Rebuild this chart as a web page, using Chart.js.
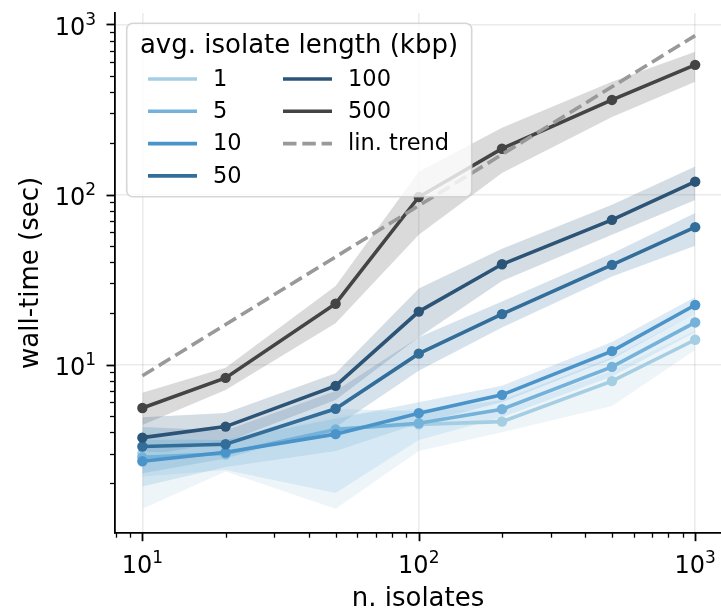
<!DOCTYPE html>
<html>
<head>
<meta charset="utf-8">
<script src="https://cdn.jsdelivr.net/npm/chart.js@4"></script>
<style>
body { margin: 0; background: #fff; overflow: hidden; }
canvas { display: block; }
</style>
</head>
<body>
<canvas id="timingChart" width="721" height="615"></canvas>
<script>
// n. isolates on the x axis
const isolates = [10, 20, 50, 100, 200, 500, 1000];
const lengthLabels = ["1", "5", "10", "50", "100", "500"];
const lineColors = ["rgb(166,206,227)", "rgb(117,178,218)", "rgb(74,148,201)",
                    "rgb(50,110,153)", "rgb(44,84,118)", "rgb(68,68,68)"];
const bandColors = ["rgba(166,206,227,0.2)", "rgba(117,178,218,0.2)", "rgba(74,148,201,0.2)",
                    "rgba(50,110,153,0.2)", "rgba(44,84,118,0.2)", "rgba(68,68,68,0.2)"];

// wall-time (sec), mean and band edges per avg. isolate length
const mean1 = [3.0, 2.95, 4.2, 4.45, 4.62, 8.0, 14.0];
const low1 = [1.42, 2.35, 1.42, 3.1, 4.0, 5.7, 12.2];
const high1 = [4.3, 3.5, 5.0, 5.5, 5.3, 9.2, 15.8];

const mean5 = [2.85, 3.0, 4.15, 4.52, 5.47, 9.7, 17.7];
const low5 = [2.2, 2.4, 1.76, 3.6, 4.9, 8.5, 15.5];
const high5 = [3.7, 3.6, 5.5, 5.3, 6.2, 11.0, 20.0];

const mean10 = [2.7, 3.05, 3.9, 5.18, 6.64, 12.0, 22.4];
const low10 = [1.92, 2.5, 3.1, 4.5, 6.0, 10.8, 20.0];
const high10 = [3.6, 3.6, 4.8, 6.0, 7.5, 13.6, 25.0];

const mean50 = [3.3, 3.4, 5.5, 11.6, 19.8, 38.6, 64.3];
const low50 = [2.3, 2.8, 4.3, 9.2, 16.5, 33, 50];
const high50 = [4.3, 4.1, 7.0, 14.5, 23.5, 45, 78];

const mean100 = [3.72, 4.32, 7.5, 20.5, 38.9, 71, 119];
const low100 = [2.9, 3.5, 6.2, 14.5, 31, 58, 93];
const high100 = [4.9, 5.2, 8.9, 28, 48, 87, 146];

const mean500 = [5.56, 8.35, 22.8, 96.7, 186, 360, 579];
const low500 = [4.42, 7.1, 17.5, 58, 134, 286, 460];
const high500 = [6.84, 9.57, 29, 136, 247, 460, 692];

const linTrend = [8.6, 17.2, 43, 86, 172, 430, 860];

// decade ticks, drawn as 10 with a raised exponent
const tickValues = [10, 100, 1000];
const tickExponents = ["1", "2", "3"];

const means = [mean1, mean5, mean10, mean50, mean100, mean500];
const lows = [low1, low5, low10, low50, low100, low500];
const highs = [high1, high5, high10, high50, high100, high500];

function pts(vals) {
    return isolates.map((x, i) => ({ x: x, y: vals[i] }));
}

let datasets = [];
lengthLabels.forEach((lab, i) => {
    datasets.push({
        label: "", data: pts(lows[i]), borderWidth: 0, pointRadius: 0,
        fill: false, order: 20 + i
    });
    datasets.push({
        label: "", data: pts(highs[i]), borderWidth: 0, pointRadius: 0,
        fill: "-1", backgroundColor: bandColors[i], order: 20 + i
    });
});
lengthLabels.forEach((lab, i) => {
    datasets.push({
        label: lab, data: pts(means[i]), borderColor: lineColors[i],
        backgroundColor: lineColors[i], borderWidth: 3.6, pointRadius: 5.2,
        pointBorderWidth: 0, fill: false, order: 6 - i
    });
});
datasets.push({
    label: "lin. trend", data: pts(linTrend), borderColor: "#999999",
    borderWidth: 3.6, borderDash: [13.5, 5.8], pointRadius: 0, fill: false, order: 0
});

const font = "DejaVu Sans";

// short and long tick marks on both axes, plus the 10^n labels
const tickMarks = {
    id: "tickMarks",
    afterDraw(chart) {
        const { ctx, chartArea } = chart;
        const sx = chart.scales.x, sy = chart.scales.y;
        ctx.save();
        ctx.strokeStyle = "#000";
        for (let e = 0; e <= 3; e++) {
            for (let m = 1; m <= 9; m++) {
                const v = m * Math.pow(10, e);
                const major = m === 1;
                ctx.lineWidth = major ? 1.8 : 1.3;
                const len = major ? 8.5 : 5;
                if (v >= sx.min && v <= sx.max) {
                    const px = Math.round(sx.getPixelForValue(v)) + 0.5;
                    ctx.beginPath();
                    ctx.moveTo(px, chartArea.bottom);
                    ctx.lineTo(px, chartArea.bottom + len);
                    ctx.stroke();
                }
                if (v >= sy.min && v <= sy.max) {
                    const py = Math.round(sy.getPixelForValue(v)) + 0.5;
                    ctx.beginPath();
                    ctx.moveTo(chartArea.left, py);
                    ctx.lineTo(chartArea.left - len, py);
                    ctx.stroke();
                }
            }
        }

        ctx.fillStyle = "#000";
        ctx.textAlign = "left";
        ctx.textBaseline = "alphabetic";
        tickValues.forEach((v, i) => {
            ctx.font = "24px '" + font + "'";
            const wb = ctx.measureText("10").width;
            ctx.font = "17px '" + font + "'";
            const we = ctx.measureText(tickExponents[i]).width;

            const px = sx.getPixelForValue(v);
            const lx = px - (wb + we) / 2;
            const bx = chartArea.bottom + 40;
            ctx.font = "24px '" + font + "'";
            ctx.fillText("10", lx, bx);
            ctx.font = "17px '" + font + "'";
            ctx.fillText(tickExponents[i], lx + wb, bx - 10);

            const py = sy.getPixelForValue(v);
            const ly = chartArea.left - 19 - (wb + we);
            const by = py + 10.5;
            ctx.font = "24px '" + font + "'";
            ctx.fillText("10", ly, by);
            ctx.font = "17px '" + font + "'";
            ctx.fillText(tickExponents[i], ly + wb, by - 10);
        });
        ctx.restore();
    }
};

// legend box in the upper left of the plot, two columns
const boxLegend = {
    id: "boxLegend",
    afterDraw(chart) {
        const ctx = chart.ctx;
        const items = chart.data.datasets.filter(d => d.label);
        ctx.save();
        ctx.beginPath();
        ctx.roundRect(126.7, 23.3, 345, 173.4, 6);
        ctx.fillStyle = "rgba(255,255,255,0.8)";
        ctx.fill();
        ctx.strokeStyle = "rgba(204,204,204,0.8)";
        ctx.lineWidth = 1.6;
        ctx.stroke();

        ctx.fillStyle = "#000";
        ctx.font = "26px '" + font + "'";
        ctx.textAlign = "center";
        ctx.textBaseline = "middle";
        ctx.fillText("avg. isolate length (kbp)", 299, 46);

        ctx.font = "22.5px '" + font + "'";
        ctx.textAlign = "left";
        items.forEach((d, i) => {
            const col = Math.floor(i / 4), row = i % 4;
            const y = 79 + row * 32.3;
            const x0 = col === 0 ? 148 : 283;
            ctx.beginPath();
            ctx.setLineDash(d.borderDash || []);
            ctx.strokeStyle = d.borderColor;
            ctx.lineWidth = 3.6;
            ctx.moveTo(x0, y);
            ctx.lineTo(x0 + 49, y);
            ctx.stroke();
            ctx.setLineDash([]);
            ctx.fillStyle = "#000";
            ctx.fillText(d.label, x0 + 65, y + 1);
        });
        ctx.restore();
    }
};

const decadeTicks = scale => {
    scale.ticks = tickValues.map(v => ({ value: v, major: true }));
};

new Chart(document.getElementById("timingChart"), {
    type: "line",
    data: { datasets: datasets },
    options: {
        responsive: false,
        animation: false,
        devicePixelRatio: 1,
        layout: { autoPadding: false, padding: { top: 13, left: 0, right: 0, bottom: 0 } },
        plugins: { legend: { display: false }, tooltip: { enabled: false } },
        scales: {
            x: {
                type: "logarithmic",
                min: 7.96,
                max: 1240,
                afterBuildTicks: decadeTicks,
                afterFit: s => {
                    s.height = 82.3;
                    s.paddingLeft = 0; s.paddingRight = 0;
                    s.paddingTop = 0; s.paddingBottom = 0;
                },
                ticks: { display: false },
                grid: { color: "rgba(0,0,0,0.08)", lineWidth: 1.6, drawTicks: false },
                border: { color: "#000", width: 1.8 },
                title: {
                    display: true, text: "n. isolates", color: "#000",
                    font: { family: font, size: 26 }, padding: { top: 0, bottom: 0 }
                }
            },
            y: {
                type: "logarithmic",
                min: 1.027,
                max: 1168,
                afterBuildTicks: decadeTicks,
                afterFit: s => {
                    s.width = 115;
                    s.paddingLeft = 0; s.paddingRight = 0;
                    s.paddingTop = 0; s.paddingBottom = 0;
                },
                ticks: { display: false },
                grid: { color: "rgba(0,0,0,0.08)", lineWidth: 1.6, drawTicks: false },
                border: { color: "#000", width: 1.8 },
                title: {
                    display: true, text: "wall-time (sec)", color: "#000",
                    font: { family: font, size: 26 }, padding: { top: 16, bottom: 0 }
                }
            }
        }
    },
    plugins: [tickMarks, boxLegend]
});
</script>
</body>
</html>
